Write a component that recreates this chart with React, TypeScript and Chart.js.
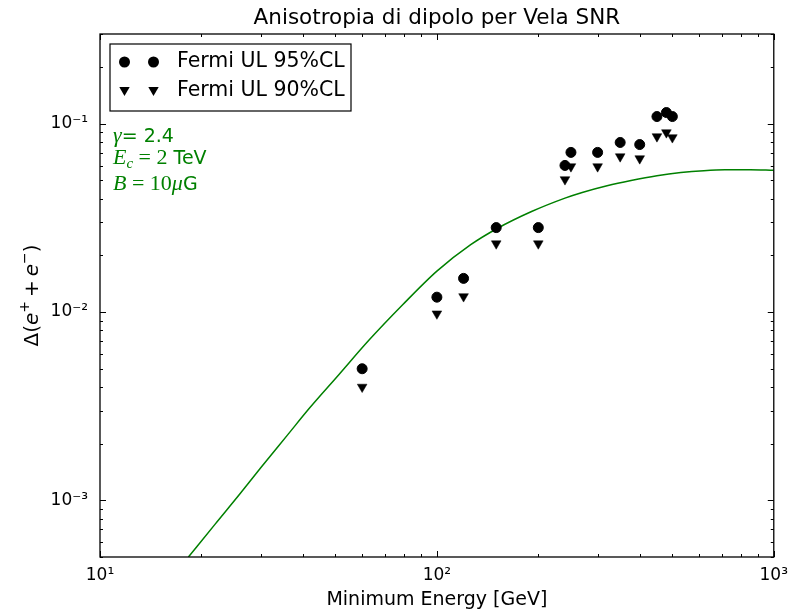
import React, { useEffect, useRef } from "react";
import { Chart, registerables } from "chart.js";

Chart.register(...registerables);

const titleText = "Anisotropia di dipolo per Vela SNR";
const xAxisTitle = "Minimum Energy [GeV]";
const legendLabels = ["Fermi UL 95%CL", "Fermi UL 90%CL"];

const energies = [60, 100, 120, 150, 200, 240, 250, 300, 350, 400, 450, 480, 500];
const ul95 = [0.0050, 0.0120, 0.0151, 0.0281, 0.0281, 0.0601, 0.0705, 0.0705, 0.0796, 0.0776, 0.1093, 0.1148, 0.1093];
const ul90 = [0.0040, 0.0098, 0.0121, 0.0231, 0.0231, 0.0506, 0.0593, 0.0593, 0.0670, 0.0654, 0.0856, 0.0899, 0.0846];

const curveEnergy = [18.3, 22, 26, 30, 36, 42, 51, 63, 79, 100, 126, 151, 191, 240, 270, 320, 377, 450, 530, 620, 716, 850, 1000];
const curveDipole = [0.0005, 0.00075, 0.00108, 0.00149, 0.00222, 0.00311, 0.00462, 0.00712, 0.0109, 0.0165, 0.0228, 0.0278, 0.0342, 0.0403, 0.0432, 0.0469, 0.0500, 0.0530, 0.0551, 0.0564, 0.0570, 0.0570, 0.0566];

const annotationGamma = "2.4";
const annotationEc = "2";
const annotationB = "10";

const X_MIN = 10;
const X_MAX = 1000;
const Y_MIN = 5e-4;
const Y_MAX = 0.3;

const GREEN = "#008000";
const SANS = "'DejaVu Sans'";
const SERIF = "'Liberation Serif'";

const SUP: Record<string, string> = {
  "0": "⁰", "1": "¹", "2": "²", "3": "³", "4": "⁴", "5": "⁵", "6": "⁶", "7": "⁷", "8": "⁸", "9": "⁹", "-": "⁻",
};

function decadeLabel(v: number): string | null {
  const l = Math.log10(v);
  const r = Math.round(l);
  if (Math.abs(l - r) > 1e-6) return null;
  return "10" + String(r).split("").map((c) => SUP[c]).join("");
}

type Run = { t: string; font: string; dy?: number };

function runsWidth(ctx: CanvasRenderingContext2D, runs: Run[]) {
  let w = 0;
  for (const r of runs) {
    ctx.font = r.font;
    w += ctx.measureText(r.t).width;
  }
  return w;
}

function drawRuns(ctx: CanvasRenderingContext2D, runs: Run[], x: number, y: number) {
  let cx = x;
  for (const r of runs) {
    ctx.font = r.font;
    ctx.fillText(r.t, cx, y + (r.dy || 0));
    cx += ctx.measureText(r.t).width;
  }
}

function drawCircle(ctx: CanvasRenderingContext2D, x: number, y: number, r: number) {
  ctx.beginPath();
  ctx.arc(x, y, r, 0, Math.PI * 2);
  ctx.fill();
}

function drawTriDown(ctx: CanvasRenderingContext2D, x: number, y: number, r: number) {
  ctx.beginPath();
  ctx.moveTo(x - r * 0.866, y - r * 0.5);
  ctx.lineTo(x + r * 0.866, y - r * 0.5);
  ctx.lineTo(x, y + r);
  ctx.closePath();
  ctx.fill();
}

const decorPlugin = {
  id: "decor",
  afterDraw(chart: any) {
    const { ctx, chartArea: a, scales } = chart;
    const xs = scales.x;
    const ys = scales.y;
    ctx.save();
    ctx.strokeStyle = "#000";
    ctx.lineWidth = 1;
    // x ticks (bottom and top, inward)
    for (let e = 1; e <= 3; e++) {
      for (let m = 1; m <= 9; m++) {
        const v = m * Math.pow(10, e);
        if (v > X_MAX * 1.0001) continue;
        const px = Math.round(xs.getPixelForValue(v)) + 0.5;
        const len = m === 1 ? 6 : 3;
        ctx.beginPath();
        ctx.moveTo(px, a.bottom);
        ctx.lineTo(px, a.bottom - len);
        ctx.moveTo(px, a.top);
        ctx.lineTo(px, a.top + len);
        ctx.stroke();
      }
    }
    // y ticks (left and right, inward)
    for (let e = -4; e <= -1; e++) {
      for (let m = 1; m <= 9; m++) {
        const v = m * Math.pow(10, e);
        if (v < Y_MIN * 0.9999 || v > Y_MAX * 1.0001) continue;
        const py = Math.round(ys.getPixelForValue(v)) + 0.5;
        const len = m === 1 ? 6 : 3;
        ctx.beginPath();
        ctx.moveTo(a.left, py);
        ctx.lineTo(a.left + len, py);
        ctx.moveTo(a.right, py);
        ctx.lineTo(a.right - len, py);
        ctx.stroke();
      }
    }
    // frame
    ctx.lineWidth = 1.3;
    ctx.strokeRect(a.left, a.top, a.right - a.left, a.bottom - a.top);

    // title
    ctx.fillStyle = "#000";
    ctx.textAlign = "center";
    ctx.textBaseline = "middle";
    ctx.font = `21.5px ${SANS}`;
    ctx.fillText(titleText, (a.left + a.right) / 2, 18.5);

    // legend
    const lx = 110, ly = 44, lw = 241, lh = 67;
    ctx.fillStyle = "#fff";
    ctx.fillRect(lx, ly, lw, lh);
    ctx.lineWidth = 1.2;
    ctx.strokeStyle = "#000";
    ctx.strokeRect(lx, ly, lw, lh);
    ctx.fillStyle = "#000";
    const rows = [62, 91];
    drawCircle(ctx, 124.5, rows[0], 5.5);
    drawCircle(ctx, 153.5, rows[0], 5.5);
    drawTriDown(ctx, 124.5, rows[1] - 1, 6);
    drawTriDown(ctx, 153.5, rows[1] - 1, 6);
    ctx.font = `20.5px ${SANS}`;
    ctx.textBaseline = "middle";
    ctx.textAlign = "left";
    ctx.fillText(legendLabels[0], 177, rows[0]);
    ctx.fillText(legendLabels[1], 177, rows[1]);

    // annotations
    ctx.fillStyle = GREEN;
    ctx.textBaseline = "alphabetic";
    drawRuns(ctx, [
      { t: "γ", font: `italic 22px ${SERIF}` },
      { t: "= " + annotationGamma, font: `19px ${SANS}` },
    ], 113, 142);
    drawRuns(ctx, [
      { t: "E", font: `italic 22px ${SERIF}` },
      { t: "c", font: `italic 15px ${SERIF}`, dy: 4 },
      { t: " = " + annotationEc, font: `22px ${SERIF}` },
      { t: " TeV", font: `19px ${SANS}` },
    ], 113, 164);
    drawRuns(ctx, [
      { t: "B", font: `italic 22px ${SERIF}` },
      { t: " = " + annotationB, font: `22px ${SERIF}` },
      { t: "μ", font: `italic 22px ${SERIF}` },
      { t: "G", font: `19px ${SANS}` },
    ], 113, 190);

    // y axis label (rotated)
    ctx.fillStyle = "#000";
    const yRuns: Run[] = [
      { t: "Δ(", font: `20px ${SANS}` },
      { t: "e", font: `italic 20px ${SANS}` },
      { t: "+", font: `14px ${SANS}`, dy: -8 },
      { t: "\u2009+\u2009", font: `20px ${SANS}` },
      { t: "e", font: `italic 20px ${SANS}` },
      { t: "−", font: `14px ${SANS}`, dy: -8 },
      { t: ")", font: `20px ${SANS}` },
    ];
    ctx.translate(33, (a.top + a.bottom) / 2);
    ctx.rotate(-Math.PI / 2);
    ctx.textBaseline = "middle";
    const w = runsWidth(ctx, yRuns);
    drawRuns(ctx, yRuns, -w / 2, 0);
    ctx.restore();
  },
};

export default function App() {
  const ref = useRef<HTMLCanvasElement | null>(null);
  useEffect(() => {
    if (!ref.current) return;
    const chart = new Chart(ref.current, {
      type: "scatter",
      data: {
        datasets: [
          {
            label: "model",
            type: "line",
            data: curveEnergy.map((x, i) => ({ x, y: curveDipole[i] })),
            borderColor: GREEN,
            borderWidth: 1.5,
            pointRadius: 0,
            cubicInterpolationMode: "monotone",
            fill: false,
            order: 3,
          } as any,
          {
            label: legendLabels[1],
            data: energies.map((x, i) => ({ x, y: ul90[i] })),
            pointStyle: "triangle",
            rotation: 180,
            pointRadius: 5.6,
            backgroundColor: "#000",
            borderColor: "#000",
            borderWidth: 0.5,
            order: 2,
          },
          {
            label: legendLabels[0],
            data: energies.map((x, i) => ({ x, y: ul95[i] })),
            pointStyle: "circle",
            pointRadius: 5,
            backgroundColor: "#000",
            borderColor: "#000",
            borderWidth: 1,
            order: 1,
          },
        ],
      },
      options: {
        responsive: false,
        animation: false,
        devicePixelRatio: 1,
        layout: { padding: { left: 0, right: 20, top: 34, bottom: 0 }, autoPadding: false },
        plugins: {
          legend: { display: false },
          tooltip: { enabled: false },
          title: { display: false },
        },
        scales: {
          x: {
            type: "logarithmic",
            min: X_MIN,
            max: X_MAX,
            grid: { display: false, drawTicks: false },
            border: { display: false },
            ticks: {
              autoSkip: false,
              maxRotation: 0,
              padding: 8,
              color: "#000",
              font: { family: "DejaVu Sans", size: 17 },
              callback: (v: any) => decadeLabel(Number(v)),
            },
            title: {
              display: true,
              text: xAxisTitle,
              color: "#000",
              font: { family: "DejaVu Sans", size: 19 },
              padding: { top: 0, bottom: 4 },
            },
            afterFit: (s: any) => {
              s.height = 58;
            },
          },
          y: {
            type: "logarithmic",
            min: Y_MIN,
            max: Y_MAX,
            grid: { display: false, drawTicks: false },
            border: { display: false },
            ticks: {
              autoSkip: false,
              padding: 12,
              color: "#000",
              font: { family: "DejaVu Sans", size: 17 },
              callback: (v: any) => decadeLabel(Number(v)),
            },
            afterFit: (s: any) => {
              s.width = 100;
            },
          },
        },
      } as any,
      plugins: [decorPlugin],
    });
    return () => chart.destroy();
  }, []);
  return (
    <div style={{ position: "fixed", left: 0, top: 0, width: 796, height: 615, background: "#fff" }}>
      <canvas ref={ref} width={796} height={615} />
    </div>
  );
}
